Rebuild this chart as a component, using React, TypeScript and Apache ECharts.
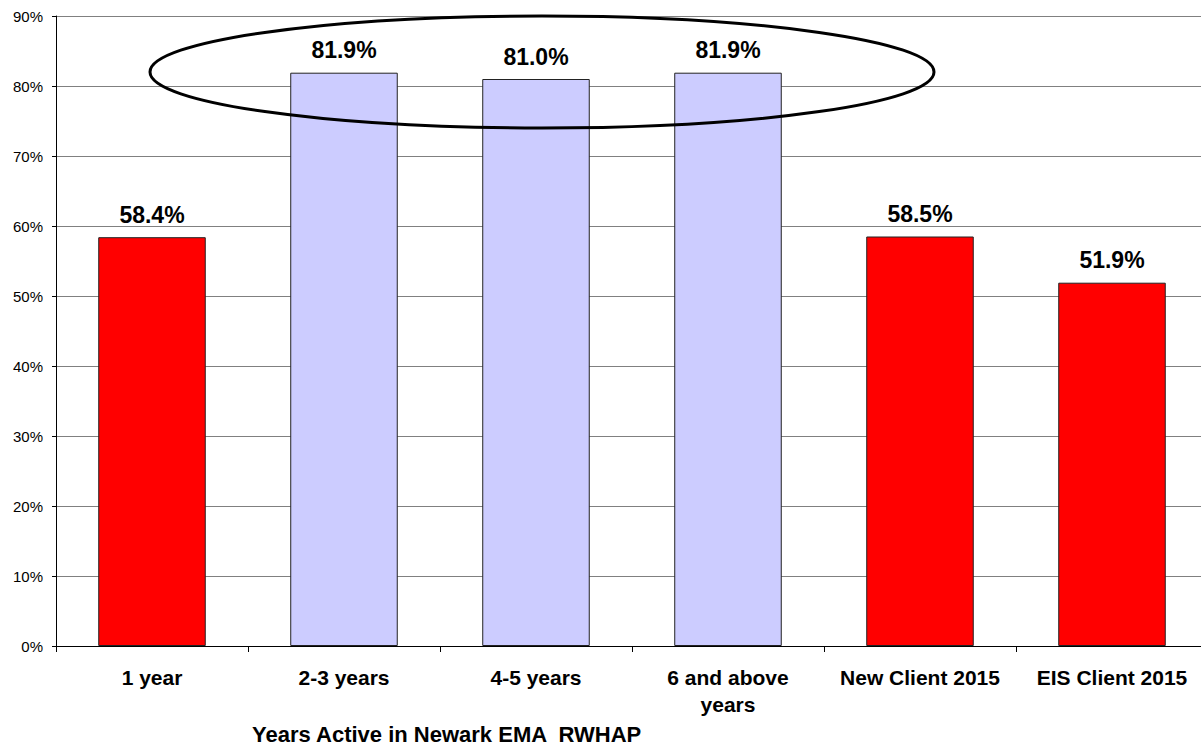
import React, { useEffect, useRef } from "react";
import * as echarts from "echarts";

// Share of clients by years active in the Newark EMA RWHAP
const categories = [
  "1 year",
  "2-3 years",
  "4-5 years",
  "6 and above\nyears",
  "New Client 2015",
  "EIS Client 2015",
];
const values = [58.4, 81.9, 81.0, 81.9, 58.5, 51.9];
// Established-client groups, shown in lavender and circled
const established = [false, true, true, true, false, false];
const yTicks = { min: 0, max: 90, interval: 10 };
const xTitle = "Years Active in Newark EMA  RWHAP";

const RED = "#FF0000";
const LAVENDER = "#CCCCFF";
const FONT = "Liberation Sans, Arial, sans-serif";

export default function App() {
  const ref = useRef<HTMLDivElement>(null);

  useEffect(() => {
    if (!ref.current) return;
    const chart = echarts.init(ref.current, null, { renderer: "svg" });

    chart.setOption({
      animation: false,
      backgroundColor: "#ffffff",
      textStyle: { fontFamily: FONT },
      grid: { left: 56, right: 0, top: 16, bottom: 101, containLabel: false },
      title: {
        text: xTitle,
        left: 252,
        top: 723,
        padding: 0,
        textStyle: { fontFamily: FONT, fontSize: 22, fontWeight: "bold", color: "#000" },
      },
      xAxis: {
        type: "category",
        data: categories,
        boundaryGap: true,
        axisLine: { show: true, lineStyle: { color: "#000", width: 1 } },
        axisTick: { show: true, length: 6, lineStyle: { color: "#000" } },
        axisLabel: {
          interval: 0,
          margin: 18,
          color: "#000",
          fontFamily: FONT,
          fontSize: 21,
          fontWeight: "bold",
          lineHeight: 27,
        },
        splitLine: { show: false },
      },
      yAxis: {
        type: "value",
        min: yTicks.min,
        max: yTicks.max,
        interval: yTicks.interval,
        axisLine: { show: true, lineStyle: { color: "#000", width: 1 } },
        axisTick: { show: true, length: 4, lineStyle: { color: "#000" } },
        axisLabel: {
          margin: 13,
          color: "#000",
          fontFamily: FONT,
          fontSize: 15,
          formatter: "{value}%",
        },
        splitLine: { show: true, lineStyle: { color: "#808080", width: 1 } },
      },
      series: [
        {
          type: "bar",
          barWidth: "56%",
          data: values.map((v, i) => ({
            value: v,
            itemStyle: {
              color: established[i] ? LAVENDER : RED,
              borderColor: "#222",
              borderWidth: 1,
            },
          })),
          label: {
            show: true,
            position: "top",
            distance: 11,
            color: "#000",
            fontFamily: FONT,
            fontSize: 23,
            fontWeight: "bold",
            formatter: (p: any) => `${Number(p.value).toFixed(1)}%`,
          },
        },
      ],
      graphic: [
        {
          type: "ellipse",
          shape: { cx: 542, cy: 72, rx: 392, ry: 56 },
          style: { fill: "none", stroke: "#000", lineWidth: 3 },
          z: 100,
        },
      ],
    });

    return () => chart.dispose();
  }, []);

  // The plot runs a few pixels past the right edge of the frame
  return (
    <div
      style={{
        position: "fixed",
        left: 0,
        top: 0,
        width: 1201,
        height: 747,
        overflow: "hidden",
        background: "#fff",
      }}
    >
      <div ref={ref} style={{ width: 1208, height: 747 }} />
    </div>
  );
}
